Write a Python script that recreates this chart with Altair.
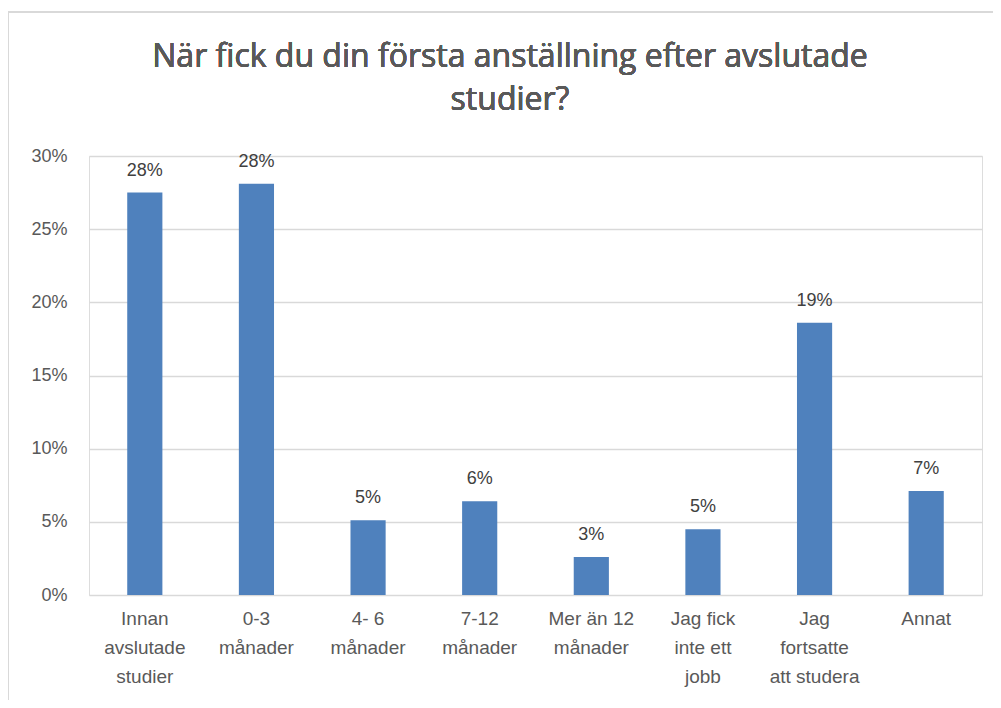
import altair as alt
import pandas as pd

categories = [
    "Innan|avslutade|studier",
    "0-3|månader",
    "4- 6|månader",
    "7-12|månader",
    "Mer än 12|månader",
    "Jag fick|inte ett|jobb",
    "Jag|fortsatte|att studera",
    "Annat",
]
values = [0.275, 0.281, 0.051, 0.064, 0.026, 0.045, 0.186, 0.071]
y_ticks = [0, 0.05, 0.10, 0.15, 0.20, 0.25, 0.30]
title_lines = ["När fick du din första anställning efter avslutade", "studier?"]

df = pd.DataFrame({"cat": categories, "val": values})

FONT = "Liberation Sans"
GRID = "#d9d9d9"

x_enc = alt.X(
    "cat:N",
    sort=categories,
    scale=alt.Scale(paddingInner=0.685, paddingOuter=0.3425),
    axis=alt.Axis(
        title=None,
        labelAngle=0,
        labelExpr="split(datum.label, '|')",
        labelFont=FONT,
        labelFontSize=19,
        labelColor="#595959",
        labelLineHeight=29,
        labelPadding=14,
        ticks=False,
        domain=False,
        labelLimit=200,
    ),
)
y_enc = alt.Y(
    "val:Q",
    scale=alt.Scale(domain=[0, 0.3], nice=False),
    axis=alt.Axis(
        title=None,
        values=y_ticks,
        format=".0%",
        labelFont=FONT,
        labelFontSize=18,
        labelColor="#595959",
        labelPadding=22,
        ticks=False,
        domain=False,
        gridColor=GRID,
        gridWidth=1.3,
    ),
)

bars = alt.Chart(df).mark_bar(color="#4f81bd").encode(x=x_enc, y=y_enc)

labels = alt.Chart(df).mark_text(
    font=FONT, fontSize=18, color="#404040", baseline="alphabetic", dy=-17
).encode(x=alt.X("cat:N", sort=categories), y="val:Q", text=alt.Text("val:Q", format=".0%"))

title = alt.Chart(df).mark_text(
    text=title_lines,
    font="Open Sans",
    fontSize=32,
    fontWeight="normal",
    color="#595959",
    lineHeight=43,
    align="center",
    baseline="top",
).encode(x=alt.value(421), y=alt.value(-114))

border_top = alt.Chart(df).mark_rule(color=GRID, strokeWidth=1.3).encode(
    x=alt.value(-81), x2=alt.value(1000), y=alt.value(-144)
)
border_left = alt.Chart(df).mark_rule(color=GRID, strokeWidth=1.3).encode(
    x=alt.value(-81), y=alt.value(-144), y2=alt.value(700)
)

chart = (
    alt.layer(border_top, border_left, bars, labels, title)
    .properties(
        width=893,
        height=439,
        padding={"left": 81, "top": 148, "right": 11, "bottom": 105},
        autosize=alt.AutoSizeParams(type="none"),
    )
    .configure_view(stroke=None)
    .configure(background="white")
)

chart.save("out.html", embed_options={"renderer": "svg", "actions": False})
